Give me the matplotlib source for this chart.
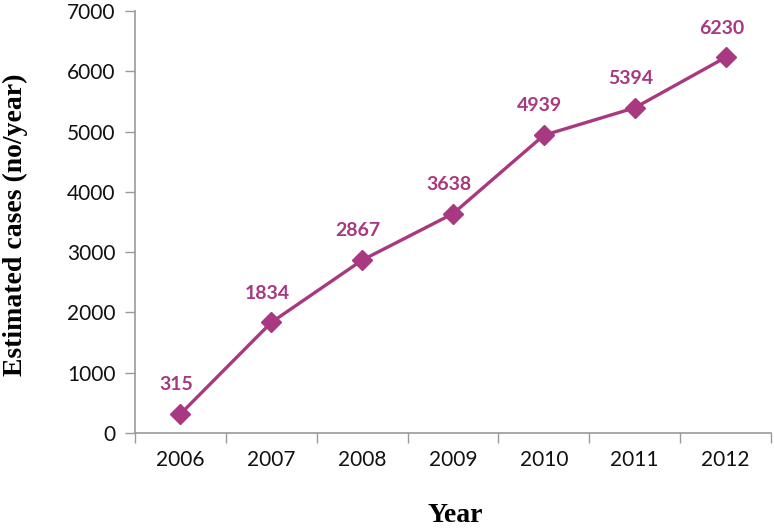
import matplotlib
matplotlib.use("Agg")
import matplotlib.pyplot as plt
from matplotlib.ticker import FixedLocator, NullFormatter, FixedFormatter

years = ["2006", "2007", "2008", "2009", "2010", "2011", "2012"]
cases = [315, 1834, 2867, 3638, 4939, 5394, 6230]
yticks = [0, 1000, 2000, 3000, 4000, 5000, 6000, 7000]

color = "#A8387F"
axis_color = "#9A9A9A"

fig = plt.figure(figsize=(7.74, 5.29), dpi=100)
ax = fig.add_axes([135/774, 1-433/529, (771-135)/774, (433-11)/529])

x = list(range(len(years)))
ax.plot(x, cases, color=color, lw=2.4, marker="D", markersize=10.5,
        markerfacecolor=color, markeredgecolor=color, zorder=3, clip_on=False)

for xi, v in zip(x, cases):
    ax.annotate(str(v), (xi, v), xytext=(-3, 15), textcoords="offset points",
                ha="center", va="bottom", color=color, fontsize=14,
                fontweight="bold", family="Lato")

ax.set_xlim(-0.5, len(years) - 0.5)
ax.set_ylim(0, 7000)

ax.xaxis.set_major_locator(FixedLocator([i - 0.5 for i in range(len(years) + 1)]))
ax.xaxis.set_major_formatter(NullFormatter())
ax.xaxis.set_minor_locator(FixedLocator(x))
ax.xaxis.set_minor_formatter(FixedFormatter(years))
ax.tick_params(axis="x", which="major", direction="out", length=7, width=1, color=axis_color)
ax.tick_params(axis="x", which="minor", length=0, pad=12, labelsize=15, labelcolor="#111111")

ax.set_yticks(yticks)
ax.set_yticklabels([str(t) for t in yticks])
ax.tick_params(axis="y", direction="out", length=7, width=1, color=axis_color, pad=7,
               labelsize=15, labelcolor="#111111")
for lab in ax.get_xticklabels(minor=True) + ax.get_yticklabels():
    lab.set_family("Lato")

for s in ["top", "right"]:
    ax.spines[s].set_visible(False)
for s in ["left", "bottom"]:
    ax.spines[s].set_color(axis_color)
    ax.spines[s].set_linewidth(1.2)

fig.text(455/774, 1-516/529, "Year", ha="center", va="center",
         family="Liberation Serif", fontweight="bold", fontsize=20)
fig.text(15/774, 1-225/529, "Estimated cases (no/year)", ha="center", va="center",
         rotation=90, family="Liberation Serif", fontweight="bold", fontsize=20)

fig.savefig("out.png", dpi=100)
